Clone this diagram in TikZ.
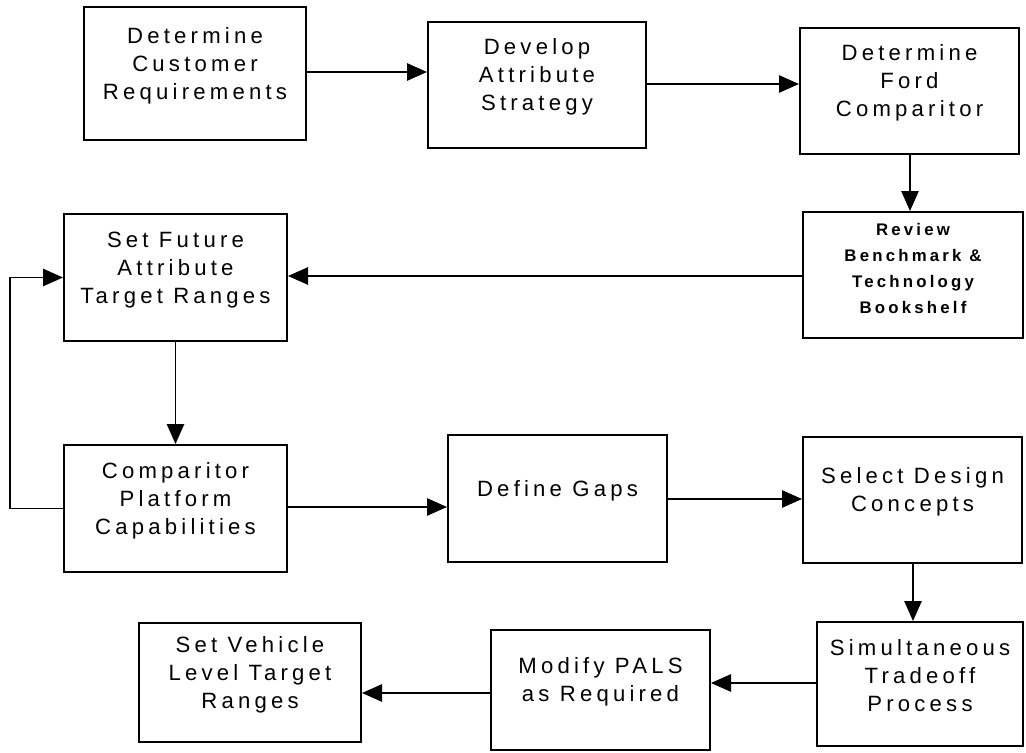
\documentclass[tikz,border=0pt]{standalone}
\usepackage{fontspec}
\usetikzlibrary{arrows.meta,fit}
\newfontfamily\boxfont{Liberation Sans}[LetterSpace=19]

\tikzset{
  stepbox/.style={draw, line width=1.5pt, inner sep=0pt, align=center,
    font=\boxfont\fontsize{16.6}{21}\selectfont},
  smallbox/.style={stepbox, font=\boxfont\bfseries\fontsize{12.6}{19.5}\selectfont},
  arr/.style={line width=1.2pt, -{Triangle[length=15pt,width=13pt]}}
}

\begin{document}
\begin{tikzpicture}[x=0.75pt,y=-0.75pt]
  \useasboundingbox[fill=white] (0,0) rectangle (1026,753);

  % process steps
  \node[stepbox, fit={(84,7) (306,140)}]    (b1)  {Determine\\Customer\\Requirements};
  \node[stepbox, fit={(428,22) (646,148)}]  (b2)  {Develop\\Attribute\\Strategy};
  \node[stepbox, fit={(800,28) (1019,154)}] (b3)  {Determine\\Ford\\Comparitor};
  \node[smallbox, fit={(803,212) (1023,338)}] (b4) {Review\\Benchmark \&\\Technology\\Bookshelf};
  \node[stepbox, fit={(64,214) (287,341)}]  (b5)  {Set Future\\Attribute\\Target Ranges};
  \node[stepbox, fit={(64,445) (287,572)}]  (b6)  {Comparitor\\Platform\\Capabilities};
  \node[stepbox, fit={(448,435) (667,562)}] (b7)  {Define Gaps};
  \node[stepbox, fit={(803,437) (1022,563)}] (b8) {Select Design\\Concepts};
  \node[stepbox, fit={(817,622) (1023,746)}] (b9) {Simultaneous\\Tradeoff\\Process};
  \node[stepbox, fit={(491,630) (710,750)}] (b10) {Modify PALS\\as Required};
  \node[stepbox, fit={(139,623) (361,742)}] (b11) {Set Vehicle\\Level Target\\Ranges};

  \coordinate (loop) at (10,0);

  % flow
  \draw[arr] (b1.east |- 0,72)  -- (b2.west |- 0,72);
  \draw[arr] (b2.east |- 0,84)  -- (b3.west |- 0,84);
  \draw[arr] (b3.south -| 910,0) -- (b4.north -| 910,0);
  \draw[arr] (b4.west |- 0,276) -- (b5.east |- 0,276);
  \draw[arr] (b5.south) -- (b6.north);
  \draw[arr] (b6.west) -- (b6.west -| loop) |- (b5.west);
  \draw[arr] (b6.east |- 0,507) -- (b7.west |- 0,507);
  \draw[arr] (b7.east |- 0,499) -- (b8.west |- 0,499);
  \draw[arr] (b8.south -| 913,0) -- (b9.north -| 913,0);
  \draw[arr] (b9.west |- 0,683) -- (b10.east |- 0,683);
  \draw[arr] (b10.west |- 0,693) -- (b11.east |- 0,693);
\end{tikzpicture}
\end{document}
